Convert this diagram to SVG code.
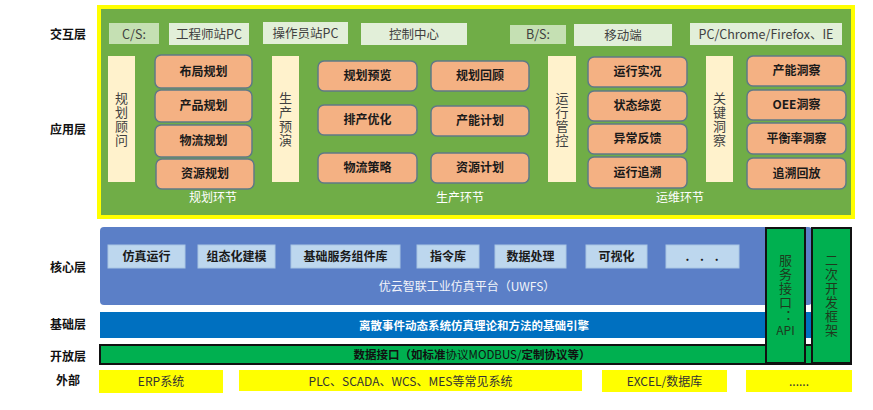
<svg xmlns="http://www.w3.org/2000/svg" width="873" height="410" viewBox="0 0 873 410">
<style>
text{font-family:"Noto Sans CJK SC","Liberation Sans",sans-serif;text-anchor:middle}
.lbl{font-size:12px;font-weight:bold;fill:#111}
.ia{fill:#e2efd9}
.iad{fill:#c5e0b3}
.iat{font-size:12.5px;fill:#404040}
.cr{fill:#fff2cc}
.crt{font-size:13px;fill:#404040;writing-mode:vertical-rl;letter-spacing:1px}
.or{fill:#f4b183;stroke:#5f7986;stroke-width:1.5}
.ort{font-size:12px;font-weight:bold;fill:#1a1a1a}
.sec{font-size:12px;fill:#ffffff}
.ci{fill:#bdd7ee;stroke:#a9c6e4;stroke-width:1}
.cit{font-size:12px;font-weight:bold;fill:#1a1a1a}
.ext{fill:#ffff00}
.extt{font-size:12px;fill:#333333}
.sv{fill:#00b050;stroke:#111111;stroke-width:2}
.svt{font-size:13px;fill:#1e3a1e;writing-mode:vertical-rl;letter-spacing:1px}
</style>

<g id="layer-labels">
<text class="lbl" x="68" y="39">交互层</text>
<text class="lbl" x="68" y="134">应用层</text>
<text class="lbl" x="68" y="272">核心层</text>
<text class="lbl" x="68" y="329">基础层</text>
<text class="lbl" x="68" y="361">开放层</text>
<text class="lbl" x="68" y="385">外部</text>
</g>

<g id="app-panel">
<rect x="99" y="7" width="754" height="210" fill="#70ad47" stroke="#ffff00" stroke-width="4"/>
</g>

<g id="interaction">
<g id="cs"><rect class="iad" x="109" y="23" width="50" height="21"/><text class="iat" x="134" y="38.5">C/S:</text></g>
<g id="eng-pc"><rect class="ia" x="169" y="23" width="80" height="22"/><text class="iat" x="209" y="38.5">工程师站PC</text></g>
<g id="op-pc"><rect class="ia" x="263" y="22" width="85" height="22"/><text class="iat" x="305.5" y="38">操作员站PC</text></g>
<g id="ctrl"><rect class="ia" x="361" y="23" width="106" height="22"/><text class="iat" x="414" y="38.5">控制中心</text></g>
<g id="bs"><rect class="iad" x="510" y="25" width="56" height="19"/><text class="iat" x="538" y="39">B/S:</text></g>
<g id="mobile"><rect class="ia" x="574" y="24" width="98" height="22"/><text class="iat" x="623" y="39.5">移动端</text></g>
<g id="browser"><rect class="ia" x="690" y="23" width="152" height="22"/><text class="iat" x="766" y="38.5">PC/Chrome/Firefox、IE</text></g>
</g>

<g id="app-planning">
<g id="plan-consult"><rect class="cr" x="108" y="56" width="27" height="126"/>
<text class="crt" x="121.5" y="120">规划顾问</text></g>
<g id="layout"><rect class="or" x="155" y="55" width="97" height="33" rx="6"/><text class="ort" x="203.5" y="75.5">布局规划</text></g>
<g id="product"><rect class="or" x="155" y="90" width="97" height="32" rx="6"/><text class="ort" x="203.5" y="110">产品规划</text></g>
<g id="logistics"><rect class="or" x="155" y="125" width="97" height="32" rx="6"/><text class="ort" x="203.5" y="145">物流规划</text></g>
<g id="resource"><rect class="or" x="156" y="159" width="98" height="30" rx="6"/><text class="ort" x="205" y="178">资源规划</text></g>
<text class="sec" x="213" y="202">规划环节</text>
</g>

<g id="app-production">
<g id="prod-rehearsal"><rect class="cr" x="272" y="56" width="27" height="126"/>
<text class="crt" x="285.5" y="120">生产预演</text></g>
<g id="plan-preview"><rect class="or" x="318" y="61" width="99" height="30" rx="6"/><text class="ort" x="367.5" y="80">规划预览</text></g>
<g id="schedule"><rect class="or" x="318" y="105" width="99" height="30" rx="6"/><text class="ort" x="367.5" y="124">排产优化</text></g>
<g id="log-strategy"><rect class="or" x="318" y="153" width="99" height="30" rx="6"/><text class="ort" x="367.5" y="172">物流策略</text></g>
<g id="plan-review"><rect class="or" x="431" y="61" width="98" height="30" rx="6"/><text class="ort" x="480" y="80">规划回顾</text></g>
<g id="capacity-plan"><rect class="or" x="431" y="106" width="98" height="30" rx="6"/><text class="ort" x="480" y="125">产能计划</text></g>
<g id="resource-plan"><rect class="or" x="431" y="153" width="98" height="30" rx="6"/><text class="ort" x="480" y="172">资源计划</text></g>
<text class="sec" x="460" y="202">生产环节</text>
</g>

<g id="app-operation">
<g id="run-control"><rect class="cr" x="548" y="56" width="28" height="126"/>
<text class="crt" x="562" y="120">运行管控</text></g>
<g id="run-status"><rect class="or" x="588" y="57" width="99" height="30" rx="6"/><text class="ort" x="637.5" y="76">运行实况</text></g>
<g id="overview"><rect class="or" x="588" y="91" width="99" height="30" rx="6"/><text class="ort" x="637.5" y="110">状态综览</text></g>
<g id="anomaly"><rect class="or" x="588" y="124" width="99" height="30" rx="6"/><text class="ort" x="637.5" y="143">异常反馈</text></g>
<g id="trace"><rect class="or" x="588" y="157" width="99" height="31" rx="6"/><text class="ort" x="637.5" y="176.5">运行追溯</text></g>
<text class="sec" x="680" y="202">运维环节</text>
</g>

<g id="app-insight">
<g id="key-insight"><rect class="cr" x="706" y="56" width="27" height="126"/>
<text class="crt" x="719.5" y="120">关键洞察</text></g>
<g id="cap-insight"><rect class="or" x="747" y="56" width="99" height="30" rx="6"/><text class="ort" x="796.5" y="75">产能洞察</text></g>
<g id="oee"><rect class="or" x="747" y="90" width="99" height="30" rx="6"/><text class="ort" x="796.5" y="109">OEE洞察</text></g>
<g id="balance"><rect class="or" x="747" y="123" width="99" height="31" rx="6"/><text class="ort" x="796.5" y="142.5">平衡率洞察</text></g>
<g id="replay"><rect class="or" x="747" y="158" width="99" height="31" rx="6"/><text class="ort" x="796.5" y="177.5">追溯回放</text></g>
</g>

<g id="core">
<rect x="100" y="227" width="712" height="78" rx="4" fill="#5b7fc7"/>
<g id="sim-run"><rect class="ci" x="108" y="245" width="77" height="23"/><text class="cit" x="146.5" y="261">仿真运行</text></g>
<g id="config-model"><rect class="ci" x="198" y="245" width="77" height="23"/><text class="cit" x="236.5" y="261">组态化建模</text></g>
<g id="components"><rect class="ci" x="291" y="245" width="109" height="23"/><text class="cit" x="345.5" y="261">基础服务组件库</text></g>
<g id="commands"><rect class="ci" x="417" y="245" width="62" height="23"/><text class="cit" x="448" y="261">指令库</text></g>
<g id="data-proc"><rect class="ci" x="495" y="245" width="71" height="23"/><text class="cit" x="530.5" y="261">数据处理</text></g>
<g id="visual"><rect class="ci" x="586" y="245" width="61" height="23"/><text class="cit" x="616.5" y="261">可视化</text></g>
<g id="more"><rect class="ci" x="666" y="245" width="73" height="23"/><text class="cit" x="704" y="261" font-size="14px" letter-spacing="4">. . .</text></g>
<text x="467" y="291" font-size="12px" fill="#f2f4fa">优云智联工业仿真平台（UWFS）</text>
</g>

<g id="base">
<rect x="100" y="312" width="712" height="26" fill="#0070c0"/>
<text x="474" y="330" font-size="11.5px" font-weight="bold" fill="#ffffff">离散事件动态系统仿真理论和方法的基础引擎</text>
</g>

<g id="open">
<rect x="100" y="345" width="751" height="19" fill="#00b050" stroke="#111111" stroke-width="2"/>
<text x="472" y="359" font-size="11.5px" fill="#111111"><tspan font-weight="bold">数据接口（如标准</tspan><tspan>协议MODBUS/</tspan><tspan font-weight="bold">定制协议等）</tspan></text>
</g>

<g id="service-api">
<rect class="sv" x="766" y="228" width="39" height="135"/>
<text class="svt" x="785.5" y="289">服务接口：</text>
<text x="785.5" y="335" font-size="12px" fill="#1e3a1e">API</text>
</g>
<g id="dev-framework">
<rect class="sv" x="812" y="228" width="39" height="135"/>
<text class="svt" x="831.5" y="296">二次开发框架</text>
</g>

<g id="external">
<g id="erp"><rect class="ext" x="99" y="370" width="124" height="23"/><text class="extt" x="161" y="386">ERP系统</text></g>
<g id="plc"><rect class="ext" x="239" y="370" width="343" height="21"/><text class="extt" x="410.5" y="385.5">PLC、SCADA、WCS、MES等常见系统</text></g>
<g id="excel"><rect class="ext" x="602" y="370" width="125" height="22"/><text class="extt" x="664.5" y="386">EXCEL/数据库</text></g>
<g id="etc"><rect class="ext" x="746" y="370" width="106" height="22"/><text class="extt" x="799" y="386">......</text></g>
</g>

<g id="connectors"/>
</svg>
